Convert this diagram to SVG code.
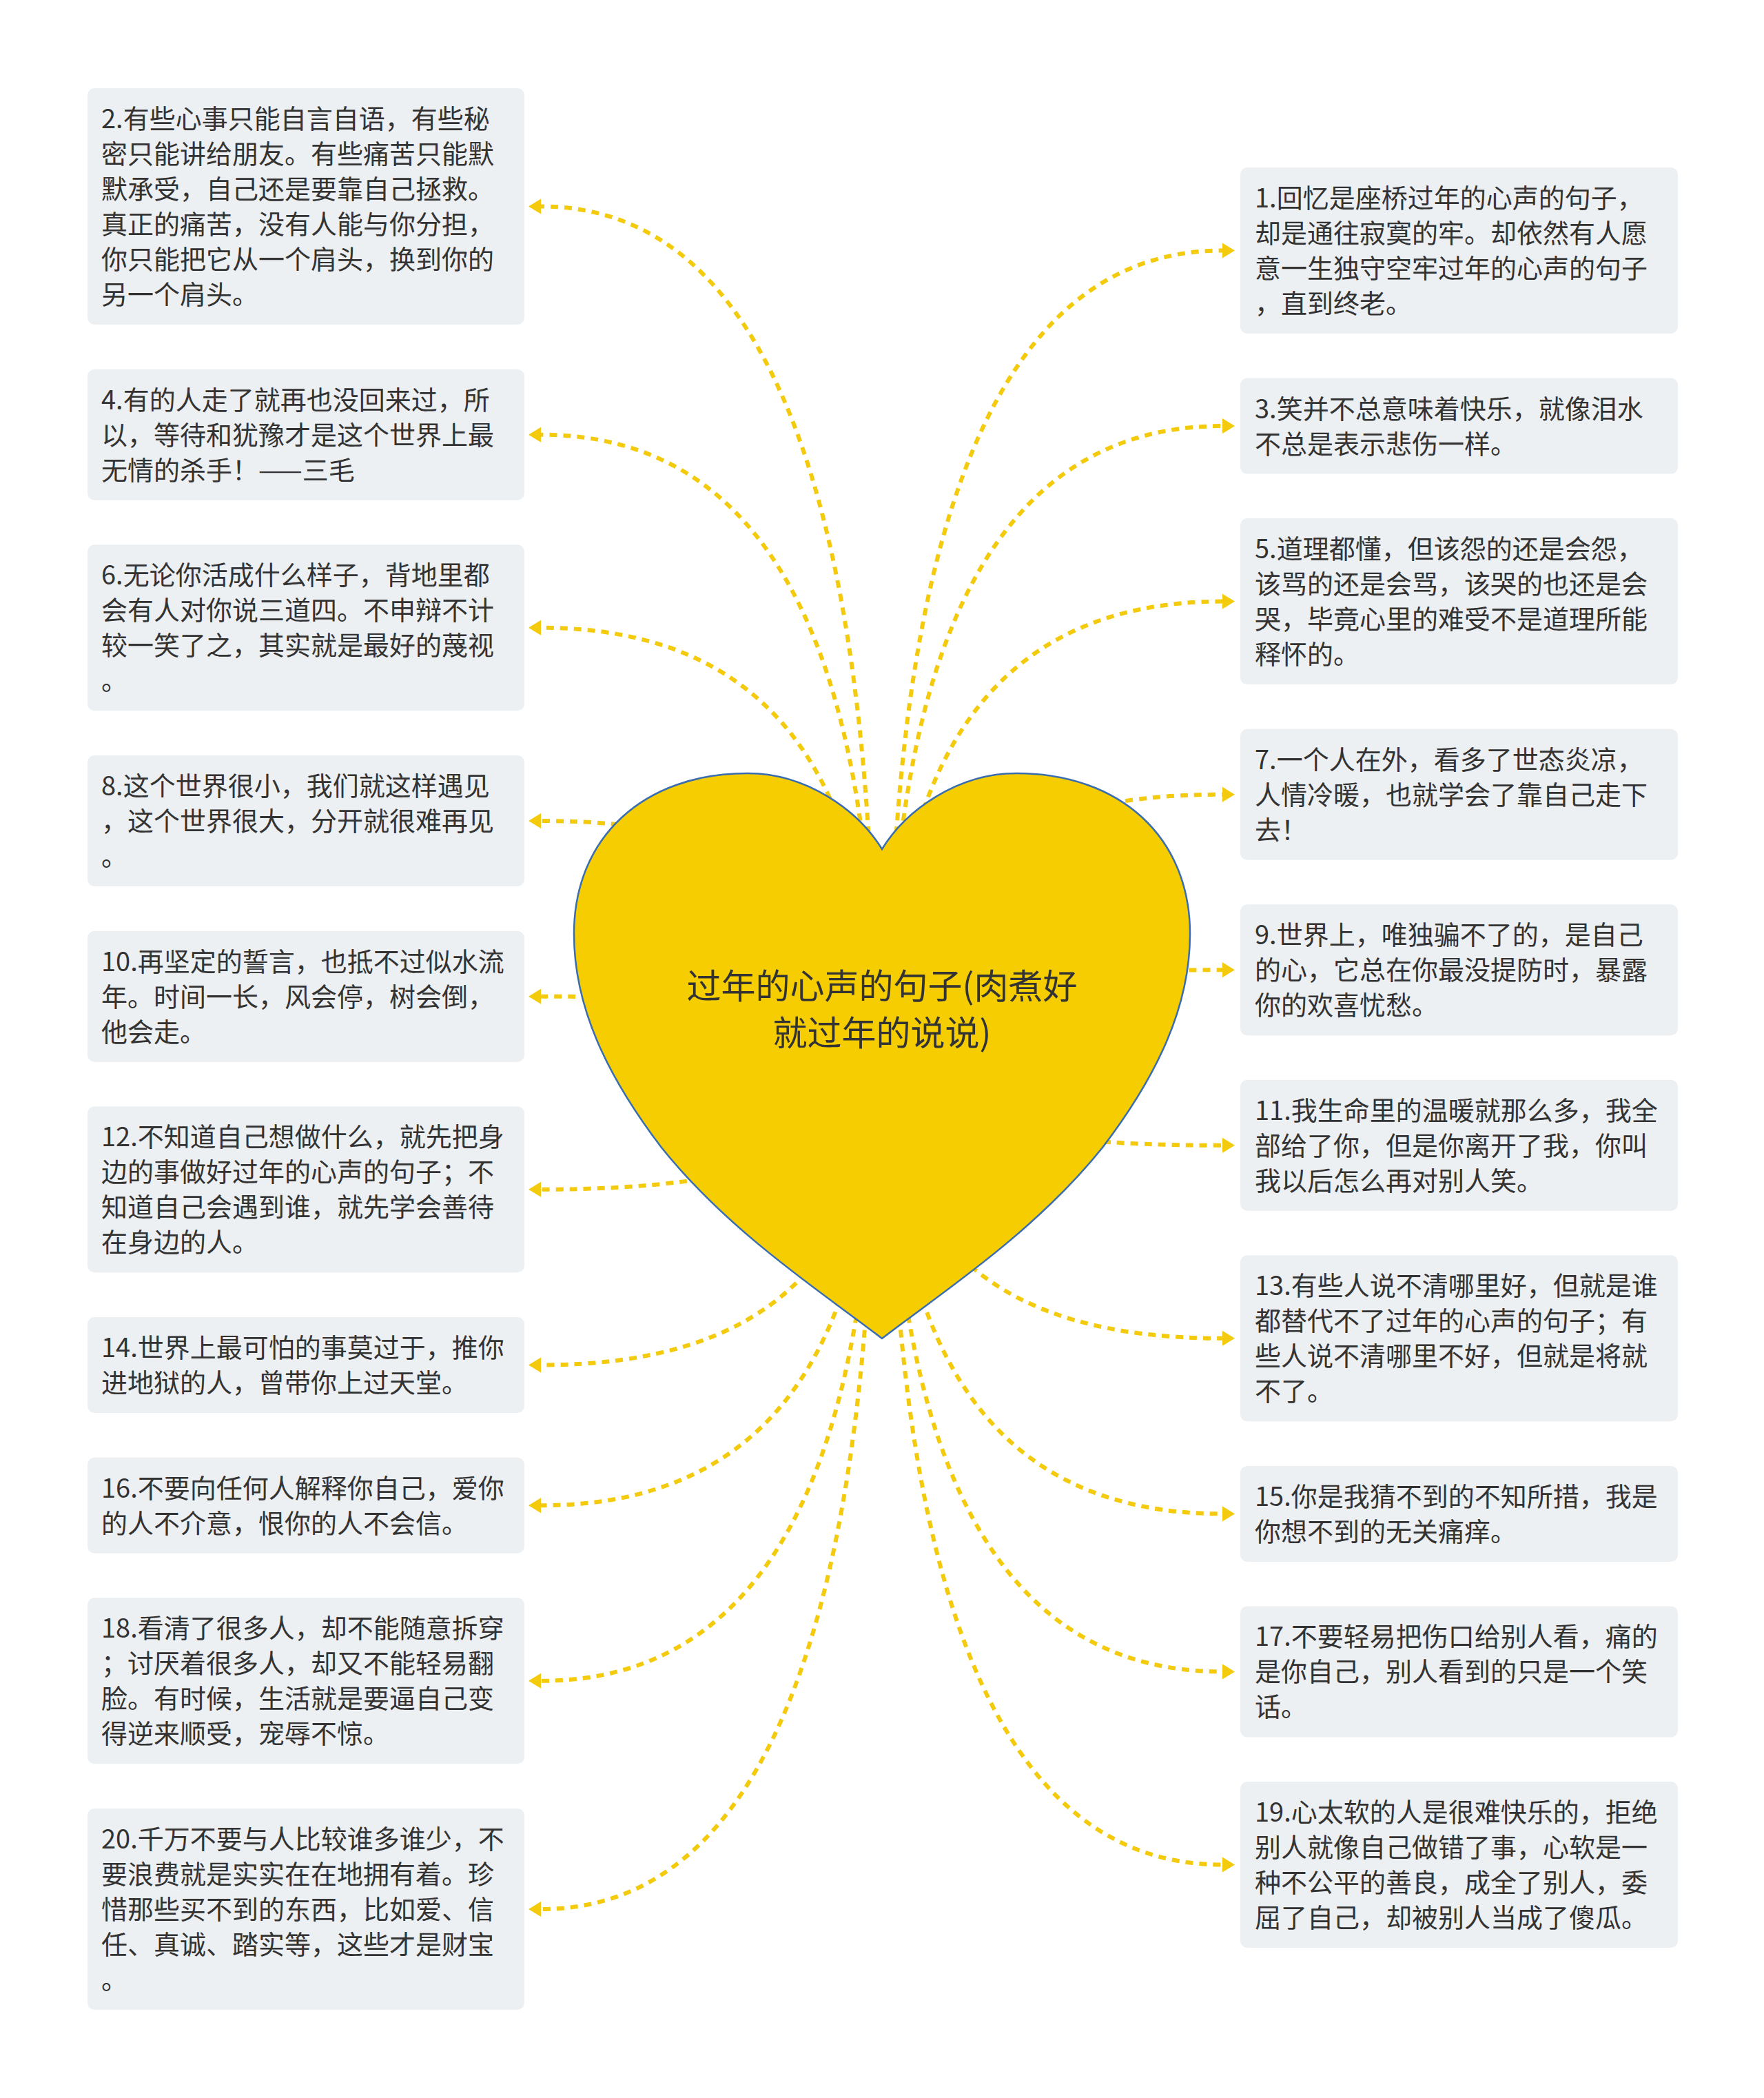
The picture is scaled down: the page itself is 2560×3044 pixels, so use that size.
<svg xmlns="http://www.w3.org/2000/svg" width="2560" height="3044" viewBox="0 0 2560 3044">
<defs>
<style>
.bg{fill:#ffffff}
.box{fill:#edf0f3}
.t{font-family:"Noto Sans CJK SC","Noto Sans",sans-serif;font-size:38px;fill:#333333}
.rt{font-family:"Noto Sans CJK SC","Noto Sans",sans-serif;font-size:50px;fill:#333333}
.c{fill:none;stroke:#F4CA0C;stroke-width:6;stroke-dasharray:11 9;marker-end:url(#arr)}
.heart{fill:#F5CD00;stroke:#3A6DB0;stroke-width:2.5}
</style>
<marker id="arr" markerUnits="userSpaceOnUse" markerWidth="20" markerHeight="24" refX="0" refY="12" orient="auto" viewBox="0 0 20 24">
<path d="M0,1 L18,12 L0,23 Z" fill="#F4CA0C"/>
</marker>
</defs>
<rect class="bg" x="0" y="0" width="2560" height="3044"/>
<g id="connectors">
<path class="c" d="M1270,1530 Q1270,299.5 785,299.5"/>
<path class="c" d="M1270,1530 Q1270,630.7 785,630.7"/>
<path class="c" d="M1270,1530 Q1270,910.8 785,910.8"/>
<path class="c" d="M1270,1530 Q1270,1191 785,1191"/>
<path class="c" d="M1270,1530 Q1270,1445.7 785,1445.7"/>
<path class="c" d="M1270,1530 Q1270,1725.8 785,1725.8"/>
<path class="c" d="M1270,1530 Q1270,1980.5 785,1980.5"/>
<path class="c" d="M1270,1530 Q1270,2184.2 785,2184.2"/>
<path class="c" d="M1270,1530 Q1270,2438.8 785,2438.8"/>
<path class="c" d="M1270,1530 Q1270,2770 785,2770"/>
<path class="c" d="M1290,1530 Q1290,363.5 1774,363.5"/>
<path class="c" d="M1290,1530 Q1290,618.1 1774,618.1"/>
<path class="c" d="M1290,1530 Q1290,872.6 1774,872.6"/>
<path class="c" d="M1290,1530 Q1290,1152.7 1774,1152.7"/>
<path class="c" d="M1290,1530 Q1290,1407.2 1774,1407.2"/>
<path class="c" d="M1290,1530 Q1290,1661.8 1774,1661.8"/>
<path class="c" d="M1290,1530 Q1290,1941.8 1774,1941.8"/>
<path class="c" d="M1290,1530 Q1290,2196.4 1774,2196.4"/>
<path class="c" d="M1290,1530 Q1290,2425.4 1774,2425.4"/>
<path class="c" d="M1290,1530 Q1290,2705.5 1774,2705.5"/>
</g>
<g id="root">
<path class="heart" d="M1280,1232 C1245,1175 1170,1122 1085,1122 C934,1122 833,1215 833,1355 C833,1460 880,1560 960,1665 C1060,1790 1200,1880 1280,1942 C1360,1880 1500,1790 1600,1665 C1680,1560 1727,1460 1727,1355 C1727,1215 1626,1122 1475,1122 C1390,1122 1315,1175 1280,1232 Z"/>
<text class="rt" text-anchor="middle"><tspan x="1280" y="1449">过年的心声的句子(肉煮好</tspan><tspan x="1280" y="1517">就过年的说说)</tspan></text>
</g>
<g id="n2"><rect class="box" x="127" y="128" width="634" height="343" rx="10"/>
<text class="t"><tspan x="147" y="186">2.有些心事只能自言自语，有些秘</tspan><tspan x="147" y="237">密只能讲给朋友。有些痛苦只能默</tspan><tspan x="147" y="288">默承受，自己还是要靠自己拯救。</tspan><tspan x="147" y="339">真正的痛苦，没有人能与你分担，</tspan><tspan x="147" y="390">你只能把它从一个肩头，换到你的</tspan><tspan x="147" y="441">另一个肩头。</tspan></text></g>
<g id="n4"><rect class="box" x="127" y="535.7" width="634" height="190" rx="10"/>
<text class="t"><tspan x="147" y="593.7">4.有的人走了就再也没回来过，所</tspan><tspan x="147" y="644.7">以，等待和犹豫才是这个世界上最</tspan><tspan x="147" y="695.7">无情的杀手！——三毛</tspan></text></g>
<g id="n6"><rect class="box" x="127" y="790.3" width="634" height="241" rx="10"/>
<text class="t"><tspan x="147" y="848.3">6.无论你活成什么样子，背地里都</tspan><tspan x="147" y="899.3">会有人对你说三道四。不申辩不计</tspan><tspan x="147" y="950.3">较一笑了之，其实就是最好的蔑视</tspan><tspan x="147" y="1001.3">。</tspan></text></g>
<g id="n8"><rect class="box" x="127" y="1096" width="634" height="190" rx="10"/>
<text class="t"><tspan x="147" y="1154">8.这个世界很小，我们就这样遇见</tspan><tspan x="147" y="1205">，这个世界很大，分开就很难再见</tspan><tspan x="147" y="1256">。</tspan></text></g>
<g id="n10"><rect class="box" x="127" y="1350.7" width="634" height="190" rx="10"/>
<text class="t"><tspan x="147" y="1408.7">10.再坚定的誓言，也抵不过似水流</tspan><tspan x="147" y="1459.7">年。时间一长，风会停，树会倒，</tspan><tspan x="147" y="1510.7">他会走。</tspan></text></g>
<g id="n12"><rect class="box" x="127" y="1605.3" width="634" height="241" rx="10"/>
<text class="t"><tspan x="147" y="1663.3">12.不知道自己想做什么，就先把身</tspan><tspan x="147" y="1714.3">边的事做好过年的心声的句子；不</tspan><tspan x="147" y="1765.3">知道自己会遇到谁，就先学会善待</tspan><tspan x="147" y="1816.3">在身边的人。</tspan></text></g>
<g id="n14"><rect class="box" x="127" y="1911" width="634" height="139" rx="10"/>
<text class="t"><tspan x="147" y="1969">14.世界上最可怕的事莫过于，推你</tspan><tspan x="147" y="2020">进地狱的人，曾带你上过天堂。</tspan></text></g>
<g id="n16"><rect class="box" x="127" y="2114.7" width="634" height="139" rx="10"/>
<text class="t"><tspan x="147" y="2172.7">16.不要向任何人解释你自己，爱你</tspan><tspan x="147" y="2223.7">的人不介意，恨你的人不会信。</tspan></text></g>
<g id="n18"><rect class="box" x="127" y="2318.3" width="634" height="241" rx="10"/>
<text class="t"><tspan x="147" y="2376.3">18.看清了很多人，却不能随意拆穿</tspan><tspan x="147" y="2427.3">；讨厌着很多人，却又不能轻易翻</tspan><tspan x="147" y="2478.3">脸。有时候，生活就是要逼自己变</tspan><tspan x="147" y="2529.3">得逆来顺受，宠辱不惊。</tspan></text></g>
<g id="n20"><rect class="box" x="127" y="2624" width="634" height="292" rx="10"/>
<text class="t"><tspan x="147" y="2682">20.千万不要与人比较谁多谁少，不</tspan><tspan x="147" y="2733">要浪费就是实实在在地拥有着。珍</tspan><tspan x="147" y="2784">惜那些买不到的东西，比如爱、信</tspan><tspan x="147" y="2835">任、真诚、踏实等，这些才是财宝</tspan><tspan x="147" y="2886">。</tspan></text></g>
<g id="n1"><rect class="box" x="1800" y="243" width="635" height="241" rx="10"/>
<text class="t"><tspan x="1821" y="301">1.回忆是座桥过年的心声的句子，</tspan><tspan x="1821" y="352">却是通往寂寞的牢。却依然有人愿</tspan><tspan x="1821" y="403">意一生独守空牢过年的心声的句子</tspan><tspan x="1821" y="454">，直到终老。</tspan></text></g>
<g id="n3"><rect class="box" x="1800" y="548.6" width="635" height="139" rx="10"/>
<text class="t"><tspan x="1821" y="606.6">3.笑并不总意味着快乐，就像泪水</tspan><tspan x="1821" y="657.6">不总是表示悲伤一样。</tspan></text></g>
<g id="n5"><rect class="box" x="1800" y="752.1" width="635" height="241" rx="10"/>
<text class="t"><tspan x="1821" y="810.1">5.道理都懂，但该怨的还是会怨，</tspan><tspan x="1821" y="861.1">该骂的还是会骂，该哭的也还是会</tspan><tspan x="1821" y="912.1">哭，毕竟心里的难受不是道理所能</tspan><tspan x="1821" y="963.1">释怀的。</tspan></text></g>
<g id="n7"><rect class="box" x="1800" y="1057.7" width="635" height="190" rx="10"/>
<text class="t"><tspan x="1821" y="1115.7">7.一个人在外，看多了世态炎凉，</tspan><tspan x="1821" y="1166.7">人情冷暖，也就学会了靠自己走下</tspan><tspan x="1821" y="1217.7">去！</tspan></text></g>
<g id="n9"><rect class="box" x="1800" y="1312.2" width="635" height="190" rx="10"/>
<text class="t"><tspan x="1821" y="1370.2">9.世界上，唯独骗不了的，是自己</tspan><tspan x="1821" y="1421.2">的心，它总在你最没提防时，暴露</tspan><tspan x="1821" y="1472.2">你的欢喜忧愁。</tspan></text></g>
<g id="n11"><rect class="box" x="1800" y="1566.8" width="635" height="190" rx="10"/>
<text class="t"><tspan x="1821" y="1624.8">11.我生命里的温暖就那么多，我全</tspan><tspan x="1821" y="1675.8">部给了你，但是你离开了我，你叫</tspan><tspan x="1821" y="1726.8">我以后怎么再对别人笑。</tspan></text></g>
<g id="n13"><rect class="box" x="1800" y="1821.3" width="635" height="241" rx="10"/>
<text class="t"><tspan x="1821" y="1879.3">13.有些人说不清哪里好，但就是谁</tspan><tspan x="1821" y="1930.3">都替代不了过年的心声的句子；有</tspan><tspan x="1821" y="1981.3">些人说不清哪里不好，但就是将就</tspan><tspan x="1821" y="2032.3">不了。</tspan></text></g>
<g id="n15"><rect class="box" x="1800" y="2126.9" width="635" height="139" rx="10"/>
<text class="t"><tspan x="1821" y="2184.9">15.你是我猜不到的不知所措，我是</tspan><tspan x="1821" y="2235.9">你想不到的无关痛痒。</tspan></text></g>
<g id="n17"><rect class="box" x="1800" y="2330.4" width="635" height="190" rx="10"/>
<text class="t"><tspan x="1821" y="2388.4">17.不要轻易把伤口给别人看，痛的</tspan><tspan x="1821" y="2439.4">是你自己，别人看到的只是一个笑</tspan><tspan x="1821" y="2490.4">话。</tspan></text></g>
<g id="n19"><rect class="box" x="1800" y="2585" width="635" height="241" rx="10"/>
<text class="t"><tspan x="1821" y="2643">19.心太软的人是很难快乐的，拒绝</tspan><tspan x="1821" y="2694">别人就像自己做错了事，心软是一</tspan><tspan x="1821" y="2745">种不公平的善良，成全了别人，委</tspan><tspan x="1821" y="2796">屈了自己，却被别人当成了傻瓜。</tspan></text></g>
</svg>
